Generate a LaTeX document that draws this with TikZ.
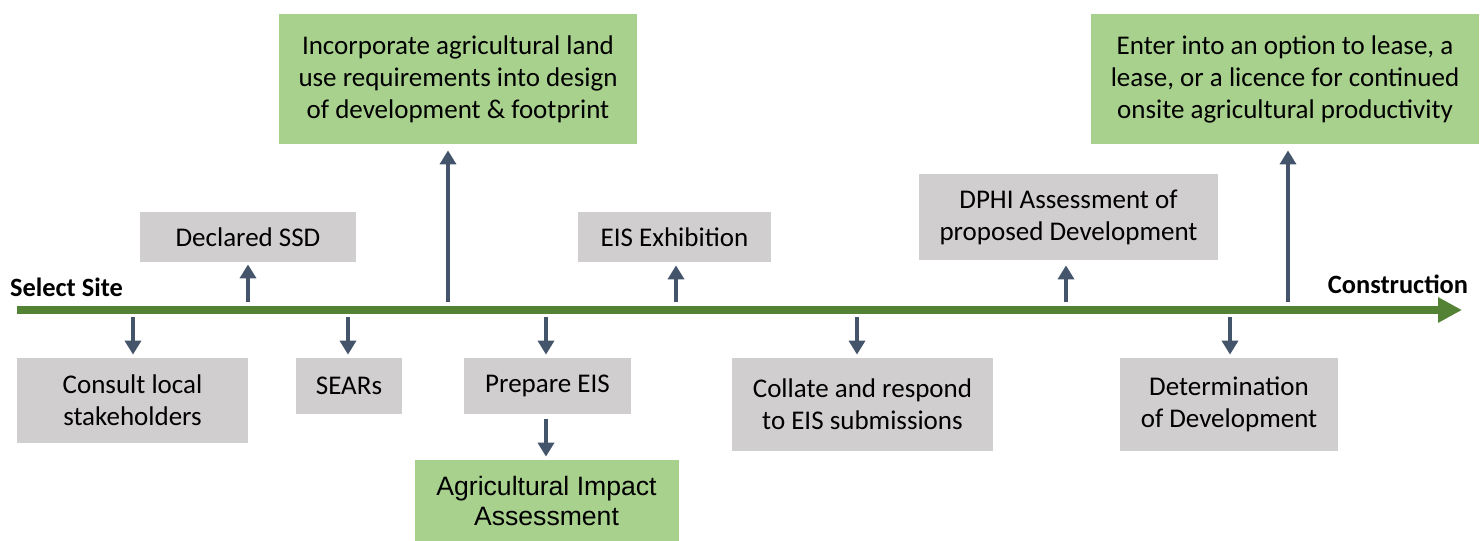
\documentclass[tikz,border=0pt]{standalone}
\usepackage{fontspec}
\setmainfont{Carlito}
\newfontfamily\arialfont{Liberation Sans}
\usepackage{tikz}
\usetikzlibrary{arrows.meta}
\definecolor{boxgrey}{HTML}{D0CECE}
\definecolor{boxgreen}{HTML}{A9D18E}
\definecolor{arrowblue}{HTML}{44546A}
\definecolor{linegreen}{HTML}{548235}

\begin{document}
\begin{tikzpicture}[x=0.5pt,y=-0.5pt,
		stage/.style={fill=boxgrey, inner sep=0pt, align=center, font=\fontsize{13.5pt}{16pt}\selectfont},
		goal/.style={stage, fill=boxgreen},
		endlabel/.style={inner sep=0pt, font=\fontsize{13.2pt}{16pt}\selectfont\bfseries},
		pointer/.style={-{Triangle[width=8pt,length=7pt]}, line width=2pt, arrowblue},
		timeline/.style={-{Triangle[width=12pt,length=12pt]}, line width=4pt, linegreen}]
			\useasboundingbox (0,0) rectangle (1484,541);

			%% boxes below the line
			\node[stage, minimum width=115.5pt, minimum height=42.5pt] (consult) at (132.5,400.5) {Consult local\\stakeholders};
			\node[stage, minimum width=53pt, minimum height=28pt] (sears) at (349,386) {SEARs};
			\node[stage, minimum width=83.5pt, minimum height=28pt] (prepeis) at (547.5,386) {Prepare EIS};
			\node[goal, minimum width=132pt, minimum height=40.5pt, font=\fontsize{13.3pt}{15pt}\selectfont\arialfont] (agri) at (546.5,500.5) {Agricultural Impact\\Assessment};
			\node[stage, minimum width=130.5pt, minimum height=46.5pt] (collate) at (862.5,404.5) {Collate and respond\\to EIS submissions};
			\node[stage, minimum width=109pt, minimum height=46.5pt] (determ) at (1229,404.5) {Determination\\of Development};

			%% boxes above the line
			\node[stage, minimum width=108pt, minimum height=25pt] (ssd) at (248,237) {Declared SSD};
			\node[goal, minimum width=179pt, minimum height=65pt] (incorp) at (458,79) {Incorporate agricultural land\\use requirements into design\\of development \& footprint};
			\node[stage, minimum width=96.5pt, minimum height=25pt] (exhib) at (674.5,237) {EIS Exhibition};
			\node[stage, minimum width=149.5pt, minimum height=43pt] (dphi) at (1068.5,217) {DPHI Assessment of\\proposed Development};
			\node[goal, minimum width=194pt, minimum height=65pt] (lease) at (1285,79) {Enter into an option to lease, a\\lease, or a licence for continued\\onsite agricultural productivity};

			%% ends of the line
			\node[endlabel] (selsite) at (66.5,287) {Select Site};
			\node[endlabel] (constr) at (1398,284) {Construction};
			\coordinate (start) at (17,310);
			\coordinate (finish) at (1462,310);
			\draw[timeline] (start) -- (finish);

			%% points on the line
			\coordinate (d1) at (133,317);
			\coordinate (d2) at (348,317);
			\coordinate (d3) at (546,317);
			\coordinate (d4) at (857,317);
			\coordinate (d5) at (1230,317);
			\coordinate (u1) at (248,302);
			\coordinate (u2) at (448,302);
			\coordinate (u3) at (676,302);
			\coordinate (u4) at (1066,302);
			\coordinate (u5) at (1288,302);

			%% arrows
			\draw[pointer, shorten >=1.5pt] (d1) -- (d1 |- consult.north);
			\draw[pointer, shorten >=1.5pt] (d2) -- (d2 |- sears.north);
			\draw[pointer, shorten >=1.5pt] (d3) -- (d3 |- prepeis.north);
			\draw[pointer, shorten >=1.5pt] (d4) -- (d4 |- collate.north);
			\draw[pointer, shorten >=1.5pt] (d5) -- (d5 |- determ.north);
			\draw[pointer, shorten <=2.5pt, shorten >=1.5pt] (d3 |- prepeis.south) -- (d3 |- agri.north);
			\draw[pointer, shorten >=1pt] (u1) -- (u1 |- ssd.south);
			\draw[pointer, shorten >=3pt] (u2) -- (u2 |- incorp.south);
			\draw[pointer, shorten >=1.5pt] (u3) -- (u3 |- exhib.south);
			\draw[pointer, shorten >=2.5pt] (u4) -- (u4 |- dphi.south);
			\draw[pointer, shorten >=3pt] (u5) -- (u5 |- lease.south);
		\end{tikzpicture}
\end{document}
